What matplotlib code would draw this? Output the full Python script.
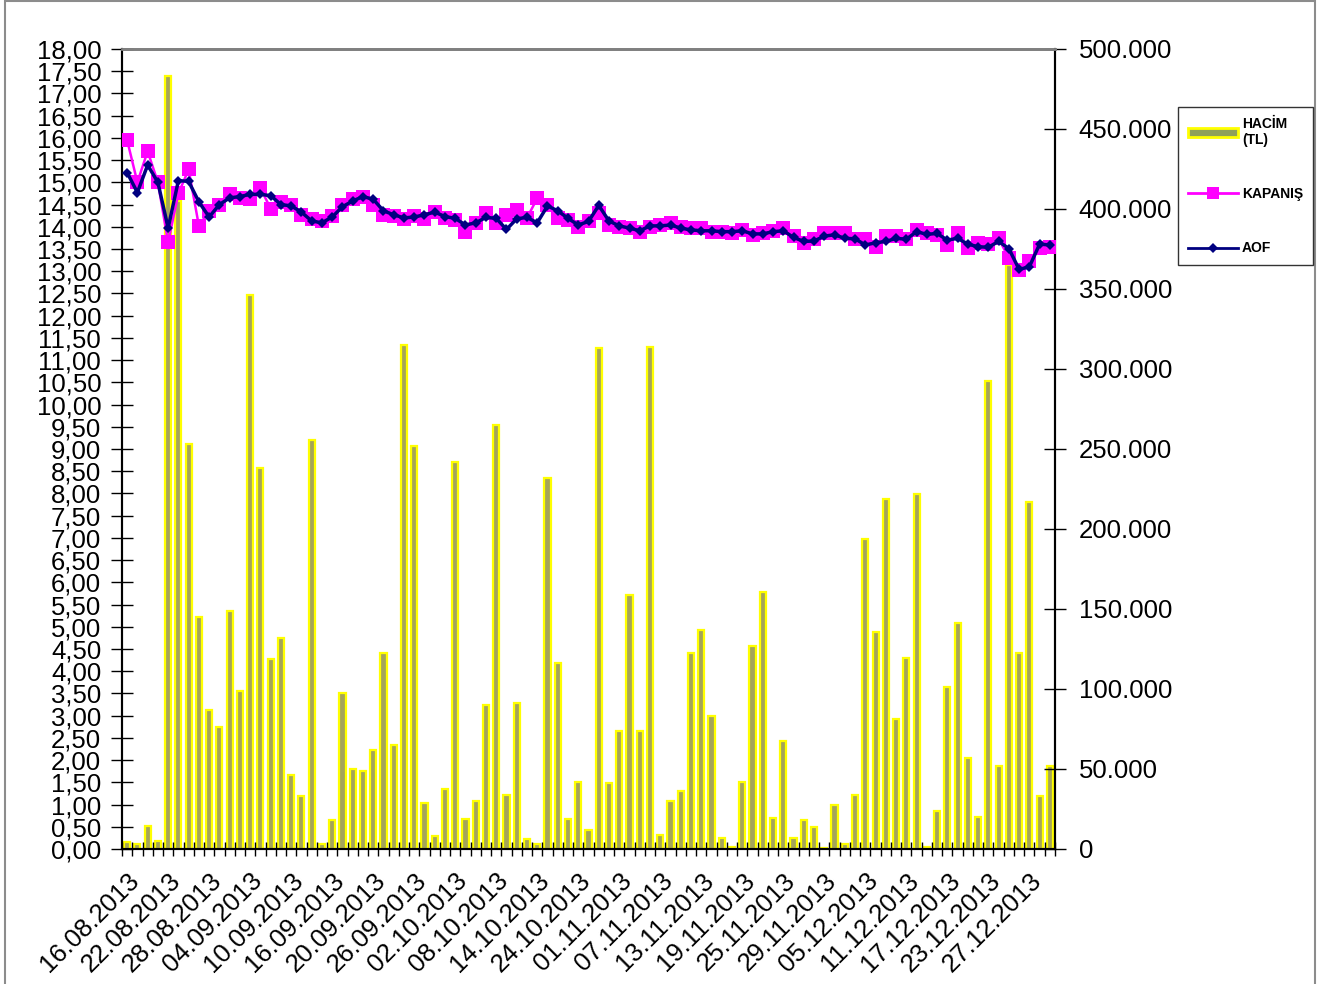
import numpy as np
import matplotlib
matplotlib.use('Agg')
import matplotlib.pyplot as plt
from matplotlib.patches import Rectangle, Patch
from matplotlib.lines import Line2D
from matplotlib.ticker import FuncFormatter, MultipleLocator, FixedLocator
from matplotlib.transforms import ScaledTranslation

plt.rcParams['font.family'] = ['Liberation Sans', 'DejaVu Sans']

# -----------------------------
# data
# -----------------------------
date_labels = ['16.08.2013', '22.08.2013', '28.08.2013', '04.09.2013', '10.09.2013',
               '16.09.2013', '20.09.2013', '26.09.2013', '02.10.2013', '08.10.2013',
               '14.10.2013', '24.10.2013', '01.11.2013', '07.11.2013', '13.11.2013',
               '19.11.2013', '25.11.2013', '29.11.2013', '05.12.2013', '11.12.2013',
               '17.12.2013', '23.12.2013', '27.12.2013']
label_step = 4  # one label every 4 trading days

# HACIM (TL), right axis
volume = [4400, 3000, 14500, 5300, 483000, 405000, 253000, 145000, 87000, 76500,
          149000, 99000, 346000, 238000, 119000, 132000, 46500, 33000, 255600, 3000,
          18000, 97500, 50000, 49000, 62000, 122500, 65000, 315000, 252000, 29000,
          8000, 37600, 242000, 19000, 30000, 90000, 265000, 33500, 91000, 6000,
          3000, 232000, 116500, 19000, 42000, 12000, 313000, 41000, 74000, 159000,
          74000, 314000, 8700, 30000, 36000, 122500, 137000, 83000, 7000, 1000,
          42000, 127000, 160500, 19500, 67500, 7000, 18000, 14000, 500, 27500,
          3000, 34000, 194000, 135600, 219000, 81000, 119600, 221600, 1000, 24000,
          101000, 141500, 57000, 20000, 292600, 52000, 365000, 122500, 216600, 33000,
          52000]

# KAPANIS, left axis
close = [15.95, 15.00, 15.70, 15.00, 13.65, 14.75, 15.29, 14.02, 14.36, 14.50,
         14.73, 14.65, 14.62, 14.87, 14.41, 14.56, 14.50, 14.27, 14.18, 14.13,
         14.24, 14.50, 14.62, 14.68, 14.50, 14.27, 14.24, 14.18, 14.24, 14.18,
         14.33, 14.20, 14.15, 13.89, 14.09, 14.31, 14.08, 14.27, 14.38, 14.20,
         14.64, 14.49, 14.19, 14.15, 14.00, 14.12, 14.31, 14.04, 14.00, 13.98,
         13.89, 14.00, 14.04, 14.09, 14.00, 13.98, 13.97, 13.89, 13.88, 13.87,
         13.93, 13.82, 13.87, 13.91, 13.97, 13.80, 13.64, 13.72, 13.85, 13.85,
         13.85, 13.72, 13.72, 13.55, 13.80, 13.80, 13.72, 13.93, 13.87, 13.82,
         13.59, 13.85, 13.52, 13.64, 13.62, 13.74, 13.29, 13.03, 13.22, 13.52,
         13.55]

# AOF, left axis
aof = [15.22, 14.77, 15.39, 15.00, 13.97, 15.04, 15.02, 14.56, 14.22, 14.50,
       14.65, 14.68, 14.73, 14.73, 14.70, 14.50, 14.47, 14.33, 14.13, 14.09,
       14.22, 14.45, 14.58, 14.68, 14.62, 14.36, 14.27, 14.20, 14.22, 14.27,
       14.33, 14.23, 14.19, 14.04, 14.09, 14.21, 14.19, 13.94, 14.18, 14.21,
       14.09, 14.47, 14.36, 14.19, 14.04, 14.12, 14.48, 14.13, 14.02, 13.97,
       13.91, 14.02, 14.02, 14.04, 13.97, 13.93, 13.91, 13.91, 13.89, 13.89,
       13.91, 13.84, 13.84, 13.89, 13.91, 13.76, 13.67, 13.68, 13.79, 13.82,
       13.74, 13.73, 13.59, 13.64, 13.67, 13.74, 13.72, 13.89, 13.83, 13.85,
       13.70, 13.74, 13.61, 13.55, 13.54, 13.67, 13.51, 13.04, 13.10, 13.61,
       13.59]

n = len(volume)
x = np.arange(n)

fig = plt.figure(figsize=(13.27, 9.84), dpi=100)
W, H = 1327, 984
# plot area in pixels: x 122..1055, y 49..849
ax = fig.add_axes([122 / W, 1 - 849 / H, (1055 - 122) / W, (849 - 49) / H])
ax2 = ax.twinx()

# chart frame
fig.patches.append(Rectangle((5 / W, -0.01), (1315 - 5) / W, 1.0 + 0.01 - 1 / H,
                             transform=fig.transFigure, fill=False,
                             edgecolor='#8c8c8c', linewidth=1.5))

# bars on the right (volume) axis, behind the lines
ax2.set_facecolor('#c0c0c0')
ax2.bar(x, volume, width=0.6, color='#a4a45a', edgecolor='#ffff00', linewidth=1.6)
ax2.set_ylim(0, 500000)
ax2.yaxis.set_major_locator(MultipleLocator(50000))
ax2.yaxis.set_major_formatter(FuncFormatter(lambda v, p: '0' if v == 0 else f'{int(v):,}'.replace(',', '.')))

ax.set_zorder(ax2.get_zorder() + 1)
ax.patch.set_visible(False)
ax.plot(x, close, color='#ff00ff', linewidth=1.8, marker='s', markersize=10,
        markeredgewidth=0, zorder=3)
ax.plot(x, aof, color='#000080', linewidth=2.5, marker='D', markersize=5.5,
        markeredgewidth=0, zorder=4)
ax.set_ylim(0, 18)
ax.set_xlim(-0.5, n - 0.5)
ax.yaxis.set_major_locator(MultipleLocator(0.5))
ax.yaxis.set_major_formatter(FuncFormatter(lambda v, p: f'{v:.2f}'.replace('.', ',')))

# x axis: tick marks between categories, labels every 4th category
ax.xaxis.set_minor_locator(FixedLocator(np.arange(n + 1) - 0.5))
ax.xaxis.set_major_locator(FixedLocator(x[::label_step][:len(date_labels)]))
ax.set_xticklabels(date_labels, rotation=45, ha='right', va='top',
                   rotation_mode='anchor', fontsize=18.5)
shift = ScaledTranslation(-4 / 100, 0, fig.dpi_scale_trans)
for lab in ax.get_xticklabels():
    lab.set_transform(lab.get_transform() + shift)
ax.tick_params(axis='x', which='major', length=0, pad=14)
ax.tick_params(axis='x', which='minor', direction='inout', length=10, width=1)
ax.tick_params(axis='y', direction='inout', length=16, width=1, labelsize=18.5, pad=7)
ax2.tick_params(axis='y', direction='inout', length=16, width=1, labelsize=18.5, pad=9)
ax2.tick_params(axis='x', length=0)

for a in (ax, ax2):
    a.spines['top'].set_color('#808080')
    a.spines['top'].set_linewidth(2)
    a.spines['left'].set_linewidth(1.5)
    a.spines['right'].set_linewidth(1.5)
    a.spines['bottom'].set_linewidth(1.5)

handles = [Patch(facecolor='#8fa05a', edgecolor='#ffff00', linewidth=2),
           Line2D([], [], color='#ff00ff', linewidth=2, marker='s', markersize=9, markeredgewidth=0),
           Line2D([], [], color='#000080', linewidth=2, marker='D', markersize=5, markeredgewidth=0)]
labels = ['HACİM\n(TL)', 'KAPANIŞ', 'AOF']
leg = fig.legend(handles, labels, loc='upper left',
                 bbox_to_anchor=(1178 / W, 1 - 107 / H), borderaxespad=0,
                 prop={'weight': 'bold', 'size': 10}, frameon=True, fancybox=False,
                 edgecolor='black', handlelength=3.6, labelspacing=2.9,
                 handletextpad=0.3, borderpad=0.7)
leg.get_frame().set_linewidth(1)

fig.savefig('out.png', dpi=100)
